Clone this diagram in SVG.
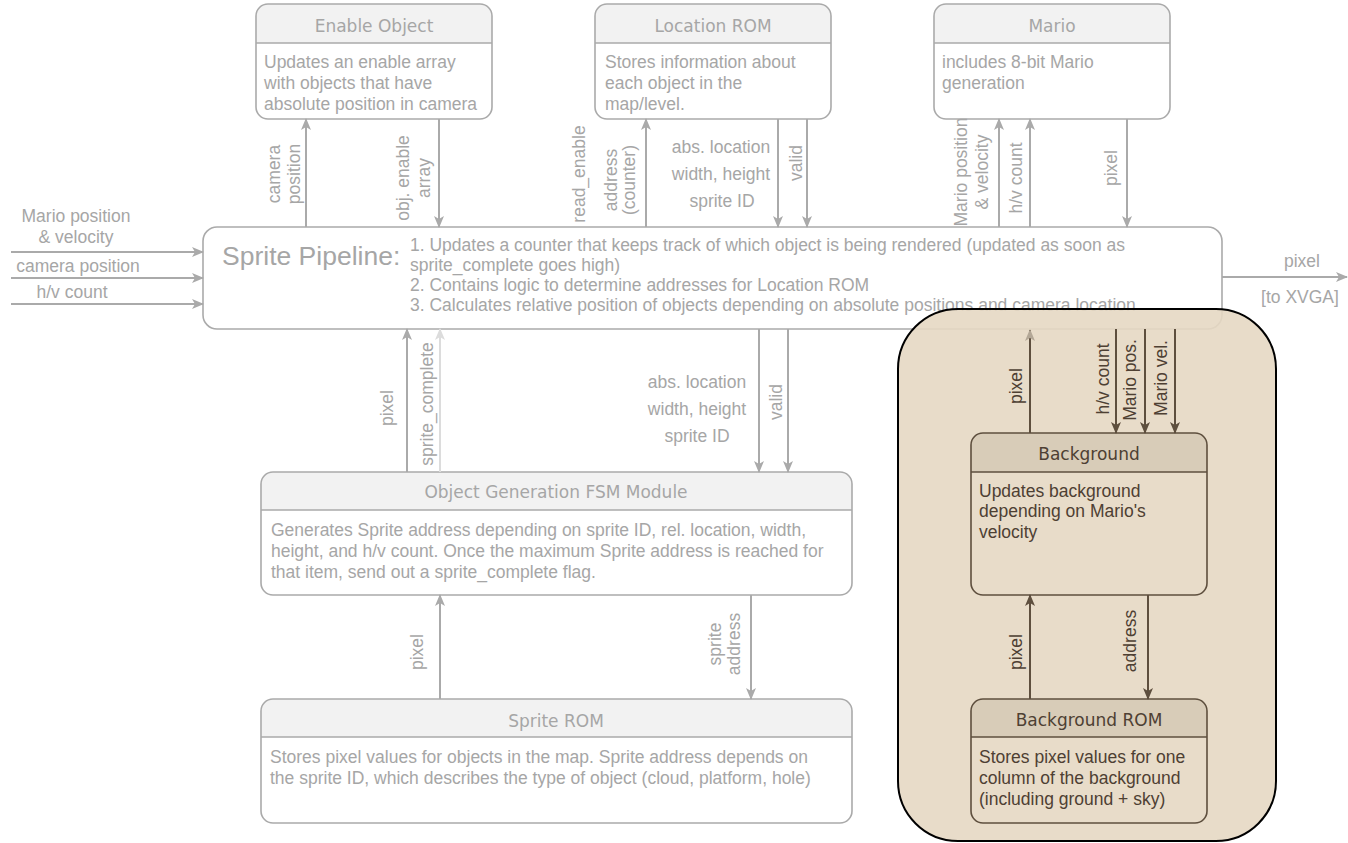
<svg xmlns="http://www.w3.org/2000/svg" width="1348" height="843" viewBox="0 0 1348 843">
  <style>
    .box { fill: none; stroke: #aaaaaa; stroke-width: 1.6; }
    .bg { fill: #ffffff; }
    .hdr { fill: #f2f2f2; stroke: none; }
    .div { stroke: #aaaaaa; stroke-width: 1.6; }
    .title { font-family: "DejaVu Sans", "Liberation Sans", sans-serif; font-size: 17px; fill: #a6a6a6; text-anchor: middle; }
    .body { font-family: "Liberation Sans", Arial, sans-serif; font-size: 17.5px; fill: #a6a6a6; }
    .lab { font-family: "Liberation Sans", Arial, sans-serif; font-size: 17.5px; fill: #a6a6a6; text-anchor: middle; }
    .big { font-family: "Liberation Sans", Arial, sans-serif; font-size: 26.5px; fill: #a6a6a6; }
    .wire { fill: none; stroke: #aaaaaa; stroke-width: 2; marker-end: url(#ag); }
    .wire-lt { fill: none; stroke: #dcdcdc; stroke-width: 2; marker-end: url(#al); }
    .bbox { fill: none; stroke: #5e4f3e; stroke-width: 1.6; }
    .bhdr { fill: #d8ccb8; stroke: none; }
    .bdiv { stroke: #5e4f3e; stroke-width: 1.6; }
    .btitle { font-family: "DejaVu Sans", "Liberation Sans", sans-serif; font-size: 17px; fill: #4e4033; text-anchor: middle; }
    .bbody { font-family: "Liberation Sans", Arial, sans-serif; font-size: 17.5px; fill: #4e4033; }
    .blab { font-family: "Liberation Sans", Arial, sans-serif; font-size: 17.5px; fill: #4e4033; text-anchor: middle; }
    .bwire { fill: none; stroke: #5e4f3e; stroke-width: 2; marker-end: url(#ab); }
    .bwire-lt { fill: none; stroke: #5e4f3e; stroke-width: 2; marker-end: url(#abl); }
  </style>
  <defs>
    <marker id="ag" viewBox="0 0 12 10" refX="11" refY="5" markerWidth="12" markerHeight="10" orient="auto" markerUnits="userSpaceOnUse">
      <path d="M0,0 L12,5 L0,10 L3,5 Z" fill="#aaaaaa"/>
    </marker>
    <marker id="al" viewBox="0 0 12 10" refX="11" refY="5" markerWidth="12" markerHeight="10" orient="auto" markerUnits="userSpaceOnUse">
      <path d="M0,0 L12,5 L0,10 L3,5 Z" fill="#dcdcdc"/>
    </marker>
    <marker id="ab" viewBox="0 0 12 10" refX="11" refY="5" markerWidth="12" markerHeight="10" orient="auto" markerUnits="userSpaceOnUse">
      <path d="M0,0 L12,5 L0,10 L3,5 Z" fill="#5e4f3e"/>
    </marker>
    <marker id="abl" viewBox="0 0 12 10" refX="11" refY="5" markerWidth="12" markerHeight="10" orient="auto" markerUnits="userSpaceOnUse">
      <path d="M0,0 L12,5 L0,10 L3,5 Z" fill="#b3a796"/>
    </marker>
  </defs>

  <rect width="1348" height="843" fill="#ffffff"/>

  <!-- Enable Object -->
  <g id="enable-object">
    <rect class="bg" x="256" y="4" width="236" height="115" rx="12"/>
    <path class="hdr" d="M256,43 V16 A12,12 0 0 1 268,4 H480 A12,12 0 0 1 492,16 V43 Z"/>
    <line class="div" x1="256" y1="43" x2="492" y2="43"/>
    <rect class="box" x="256" y="4" width="236" height="115" rx="12"/>
    <text class="title" x="374" y="32">Enable Object</text>
    <text class="body" x="264" y="68">Updates an enable array</text>
    <text class="body" x="264" y="89">with objects that have</text>
    <text class="body" x="264" y="110">absolute position in camera</text>
  </g>

  <!-- Location ROM -->
  <g id="location-rom">
    <rect class="bg" x="595" y="4" width="236" height="115" rx="12"/>
    <path class="hdr" d="M595,43 V16 A12,12 0 0 1 607,4 H819 A12,12 0 0 1 831,16 V43 Z"/>
    <line class="div" x1="595" y1="43" x2="831" y2="43"/>
    <rect class="box" x="595" y="4" width="236" height="115" rx="12"/>
    <text class="title" x="713" y="32">Location ROM</text>
    <text class="body" x="605" y="68">Stores information about</text>
    <text class="body" x="605" y="89">each object in the</text>
    <text class="body" x="605" y="110">map/level.</text>
  </g>

  <!-- Mario -->
  <g id="mario">
    <rect class="bg" x="934" y="4" width="236" height="115" rx="12"/>
    <path class="hdr" d="M934,43 V16 A12,12 0 0 1 946,4 H1158 A12,12 0 0 1 1170,16 V43 Z"/>
    <line class="div" x1="934" y1="43" x2="1170" y2="43"/>
    <rect class="box" x="934" y="4" width="236" height="115" rx="12"/>
    <text class="title" x="1052" y="32">Mario</text>
    <text class="body" x="942" y="68">includes 8-bit Mario</text>
    <text class="body" x="942" y="89">generation</text>
  </g>

  <!-- Sprite Pipeline -->
  <g id="sprite-pipeline">
    <rect x="203" y="227" width="1019" height="102" rx="14" fill="#ffffff" stroke="#aaaaaa" stroke-width="1.6"/>
    <text class="big" x="222" y="265">Sprite Pipeline:</text>
    <text class="body" x="410" y="251">1. Updates a counter that keeps track of which object is being rendered (updated as soon as</text>
    <text class="body" x="410" y="271">sprite_complete goes high)</text>
    <text class="body" x="410" y="291">2. Contains logic to determine addresses for Location ROM</text>
    <text class="body" x="410" y="311">3. Calculates relative position of objects depending on absolute positions and camera location</text>
  </g>

  <!-- Object Generation FSM Module -->
  <g id="object-generation-fsm">
    <rect class="bg" x="261" y="472" width="591" height="123" rx="12"/>
    <path class="hdr" d="M261,510 V484 A12,12 0 0 1 273,472 H840 A12,12 0 0 1 852,484 V510 Z"/>
    <line class="div" x1="261" y1="510" x2="852" y2="510"/>
    <rect class="box" x="261" y="472" width="591" height="123" rx="12"/>
    <text class="title" x="556" y="498">Object Generation FSM Module</text>
    <text class="body" x="271" y="536">Generates Sprite address depending on sprite ID, rel. location, width,</text>
    <text class="body" x="271" y="557">height, and h/v count. Once the maximum Sprite address is reached for</text>
    <text class="body" x="271" y="578">that item, send out a sprite_complete flag.</text>
  </g>

  <!-- Sprite ROM -->
  <g id="sprite-rom">
    <rect class="bg" x="261" y="699" width="591" height="124" rx="12"/>
    <path class="hdr" d="M261,737 V711 A12,12 0 0 1 273,699 H840 A12,12 0 0 1 852,711 V737 Z"/>
    <line class="div" x1="261" y1="737" x2="852" y2="737"/>
    <rect class="box" x="261" y="699" width="591" height="124" rx="12"/>
    <text class="title" x="556" y="727">Sprite ROM</text>
    <text class="body" x="270" y="763">Stores pixel values for objects in the map. Sprite address depends on</text>
    <text class="body" x="270" y="784">the sprite ID, which describes the type of object (cloud, platform, hole)</text>
  </g>

  <!-- Background subsystem container -->
  <g id="background-subsystem">
    <rect x="898" y="309" width="378" height="532" rx="60" fill="#e6d8c3" fill-opacity="0.9" stroke="#000000" stroke-width="2"/>
  </g>

  <!-- Background -->
  <g id="background">
    <path class="bhdr" d="M971,472 V445 A12,12 0 0 1 983,433 H1195 A12,12 0 0 1 1207,445 V472 Z"/>
    <line class="bdiv" x1="971" y1="472" x2="1207" y2="472"/>
    <rect class="bbox" x="971" y="433" width="236" height="162" rx="12"/>
    <text class="btitle" x="1089" y="460">Background</text>
    <text class="bbody" x="979" y="497">Updates background</text>
    <text class="bbody" x="979" y="517">depending on Mario's</text>
    <text class="bbody" x="979" y="538">velocity</text>
  </g>

  <!-- Background ROM -->
  <g id="background-rom">
    <path class="bhdr" d="M971,737 V711 A12,12 0 0 1 983,699 H1195 A12,12 0 0 1 1207,711 V737 Z"/>
    <line class="bdiv" x1="971" y1="737" x2="1207" y2="737"/>
    <rect class="bbox" x="971" y="699" width="236" height="124" rx="12"/>
    <text class="btitle" x="1089" y="726">Background ROM</text>
    <text class="bbody" x="979" y="763">Stores pixel values for one</text>
    <text class="bbody" x="979" y="784">column of the background</text>
    <text class="bbody" x="979" y="805">(including ground + sky)</text>
  </g>

  <!-- Connectors -->
  <g id="connectors">
    <!-- external inputs -->
    <path class="wire" d="M11,252 H203"/>
    <path class="wire" d="M11,278 H203"/>
    <path class="wire" d="M11,304 H203"/>
    <text class="lab" x="76" y="222">Mario position</text>
    <text class="lab" x="76" y="243">&amp; velocity</text>
    <text class="lab" x="78" y="272">camera position</text>
    <text class="lab" x="72" y="298">h/v count</text>

    <!-- output to XVGA -->
    <path class="wire" d="M1222,277 H1347"/>
    <text class="lab" x="1302" y="267">pixel</text>
    <text class="lab" x="1300" y="303">[to XVGA]</text>

    <!-- pipeline <-> Enable Object -->
    <path class="wire" d="M306,227 V119"/>
    <path class="wire" d="M439,119 V227"/>
    <text class="lab" transform="translate(280,174) rotate(-90)">camera</text>
    <text class="lab" transform="translate(300,174) rotate(-90)">position</text>
    <text class="lab" transform="translate(409,178) rotate(-90)">obj. enable</text>
    <text class="lab" transform="translate(430,178) rotate(-90)">array</text>

    <!-- pipeline <-> Location ROM -->
    <path class="wire" d="M646,227 V119"/>
    <path class="wire" d="M778,119 V227"/>
    <path class="wire" d="M807,119 V227"/>
    <text class="lab" transform="translate(585,174) rotate(-90)">read_enable</text>
    <text class="lab" transform="translate(617,180) rotate(-90)">address</text>
    <text class="lab" transform="translate(635,180) rotate(-90)">(counter)</text>
    <text class="lab" x="721" y="153">abs. location</text>
    <text class="lab" x="721" y="180">width, height</text>
    <text class="lab" x="722" y="207">sprite ID</text>
    <text class="lab" transform="translate(802,163) rotate(-90)">valid</text>

    <!-- pipeline <-> Mario -->
    <path class="wire" d="M999,227 V119"/>
    <path class="wire" d="M1030,227 V119"/>
    <path class="wire" d="M1127,119 V227"/>
    <text class="lab" transform="translate(967,172) rotate(-90)">Mario position</text>
    <text class="lab" transform="translate(988,172) rotate(-90)">&amp; velocity</text>
    <text class="lab" transform="translate(1022,178) rotate(-90)">h/v count</text>
    <text class="lab" transform="translate(1117,168) rotate(-90)">pixel</text>

    <!-- pipeline <-> Object Generation FSM -->
    <path class="wire" d="M407,472 V329"/>
    <path class="wire-lt" d="M440,472 V329"/>
    <path class="wire" d="M759,329 V472"/>
    <path class="wire" d="M788,329 V472"/>
    <text class="lab" transform="translate(393,408) rotate(-90)">pixel</text>
    <text class="lab" transform="translate(433,404) rotate(-90)">sprite_complete</text>
    <text class="lab" x="697" y="388">abs. location</text>
    <text class="lab" x="697" y="415">width, height</text>
    <text class="lab" x="697" y="442">sprite ID</text>
    <text class="lab" transform="translate(782,402) rotate(-90)">valid</text>

    <!-- Object Generation FSM <-> Sprite ROM -->
    <path class="wire" d="M440,699 V595"/>
    <path class="wire" d="M751,595 V699"/>
    <text class="lab" transform="translate(423,652) rotate(-90)">pixel</text>
    <text class="lab" transform="translate(721,644) rotate(-90)">sprite</text>
    <text class="lab" transform="translate(740,644) rotate(-90)">address</text>

    <!-- pipeline <-> Background -->
    <path class="bwire-lt" d="M1030,433 V330"/>
    <path class="bwire" d="M1116,329 V433"/>
    <path class="bwire" d="M1145,329 V433"/>
    <path class="bwire" d="M1175,329 V433"/>
    <text class="blab" transform="translate(1022,386) rotate(-90)">pixel</text>
    <text class="blab" transform="translate(1109,379) rotate(-90)">h/v count</text>
    <text class="blab" transform="translate(1136,380) rotate(-90)">Mario pos.</text>
    <text class="blab" transform="translate(1167,378) rotate(-90)">Mario vel.</text>

    <!-- Background <-> Background ROM -->
    <path class="bwire" d="M1030,699 V595"/>
    <path class="bwire" d="M1148,595 V699"/>
    <text class="blab" transform="translate(1022,652) rotate(-90)">pixel</text>
    <text class="blab" transform="translate(1136,641) rotate(-90)">address</text>
  </g>
</svg>
